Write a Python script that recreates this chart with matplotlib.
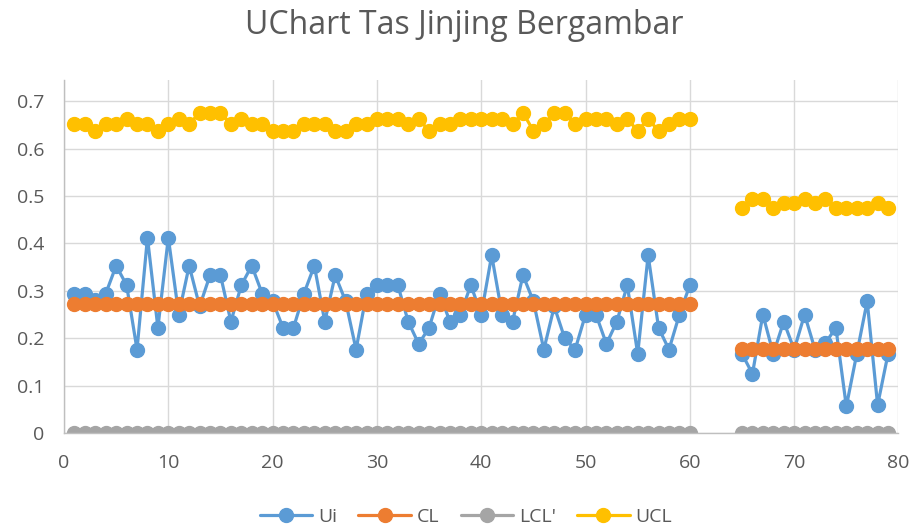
import numpy as np
import matplotlib
matplotlib.use("Agg")
import matplotlib.pyplot as plt

plt.rcParams['font.family'] = ['Open Sans', 'DejaVu Sans']

# sample numbers: 1..60, then 65..79
sample = list(range(1, 61)) + list(range(65, 80))

ui = [0.294, 0.294, 0.280, 0.294, 0.353, 0.312, 0.176, 0.412, 0.222, 0.412,
      0.250, 0.353, 0.267, 0.333, 0.333, 0.235, 0.312, 0.353, 0.294, 0.278,
      0.222, 0.222, 0.294, 0.353, 0.235, 0.333, 0.278, 0.176, 0.294, 0.312,
      0.312, 0.312, 0.235, 0.188, 0.222, 0.294, 0.235, 0.250, 0.312, 0.250,
      0.375, 0.250, 0.235, 0.333, 0.278, 0.176, 0.267, 0.200, 0.176, 0.250,
      0.250, 0.188, 0.235, 0.312, 0.167, 0.375, 0.222, 0.176, 0.250, 0.312,
      0.167, 0.125, 0.250, 0.167, 0.235, 0.176, 0.250, 0.176, 0.190, 0.222,
      0.056, 0.167, 0.278, 0.059, 0.167]

cl = [0.273] * 60 + [0.177] * 15

lcl = [0.0] * 75

ucl = [0.651, 0.651, 0.637, 0.651, 0.651, 0.663, 0.651, 0.651, 0.637, 0.651,
       0.663, 0.651, 0.676, 0.676, 0.676, 0.651, 0.663, 0.651, 0.651, 0.637,
       0.637, 0.637, 0.651, 0.651, 0.651, 0.637, 0.637, 0.651, 0.651, 0.663,
       0.663, 0.663, 0.651, 0.663, 0.637, 0.651, 0.651, 0.663, 0.663, 0.663,
       0.663, 0.663, 0.651, 0.676, 0.637, 0.651, 0.676, 0.676, 0.651, 0.663,
       0.663, 0.663, 0.651, 0.663, 0.637, 0.663, 0.637, 0.651, 0.663, 0.663,
       0.475, 0.493, 0.493, 0.475, 0.486, 0.486, 0.493, 0.486, 0.493, 0.475,
       0.475, 0.475, 0.475, 0.486, 0.475]

series = [("Ui", ui, "#5B9BD5"), ("CL", cl, "#ED7D31"),
          ("LCL'", lcl, "#A5A5A5"), ("UCL", ucl, "#FFC000")]

text_color = "#595959"

fig = plt.figure(figsize=(9.17, 5.32), dpi=100)
ax = fig.add_axes([0.0698, 0.186, 0.910, 0.664])

# break the lines between sample 60 and 65
x = np.insert(np.array(sample, dtype=float), 60, np.nan)
for name, vals, col in series:
    y = np.insert(np.array(vals, dtype=float), 60, np.nan)
    ax.plot(x, y, color=col, lw=2.3, marker='o', markersize=10,
            label=name, solid_capstyle='round')

ax.set_xlim(0, 80)
ax.set_ylim(0, 0.745)
ax.set_xticks(range(0, 81, 10))
ax.set_yticks(np.arange(0, 0.71, 0.1))
ax.set_yticklabels(["0"] + [f"{v:.1f}" for v in np.arange(0.1, 0.71, 0.1)])
ax.grid(True, color="#D9D9D9", lw=1)
ax.set_axisbelow(True)
for s in ["top", "right"]:
    ax.spines[s].set_visible(False)
for s in ["left", "bottom"]:
    ax.spines[s].set_color("#BFBFBF")
    ax.spines[s].set_linewidth(1)
ax.tick_params(length=0, labelsize=14, colors=text_color)
ax.tick_params(axis='y', pad=14)
ax.tick_params(axis='x', pad=15)

fig.text(0.506, 0.952, "UChart Tas Jinjing Bergambar", ha="center",
         va="center", fontsize=23, color=text_color)

fig.legend(loc="center", bbox_to_anchor=(0.508, 0.028), ncol=4,
           frameon=False, fontsize=14, labelcolor=text_color,
           handlelength=2.7, columnspacing=1.1, handletextpad=0.3)

fig.savefig("out.png", dpi=100)
